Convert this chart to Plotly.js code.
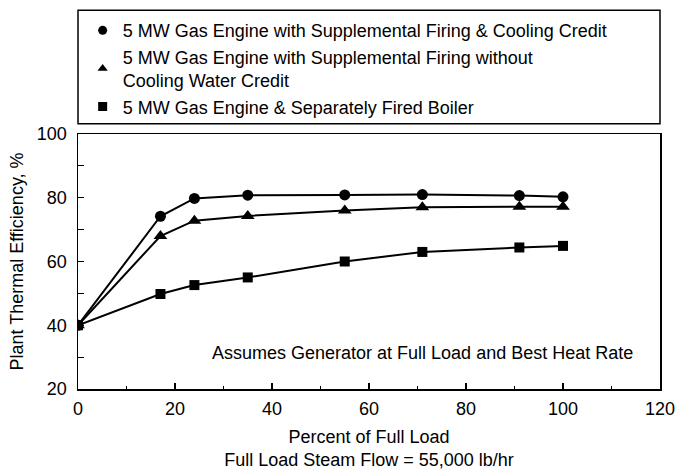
<!DOCTYPE html>
<html>
<head>
<meta charset="utf-8">
<script src="https://cdn.plot.ly/plotly-3.0.1.min.js"></script>
<style>html,body{margin:0;padding:0;background:#fff;}#chart{width:683px;height:471px;}</style>
</head>
<body>
<div id="chart"></div>
<script>
// Data
const loadPct = [0, 17, 24, 35, 55, 71, 91, 100];
const withCoolingCredit = [40, 74.2, 79.8, 80.8, 80.9, 81, 80.7, 80.3];
const withoutCoolingCredit = [40, 68, 72.8, 74.3, 76, 77, 77.2, 77.2];
const separateBoiler = [40, 49.8, 52.6, 55, 60, 63, 64.4, 64.9];

const seriesNames = [
  "5 MW Gas Engine with Supplemental Firing & Cooling Credit",
  "5 MW Gas Engine with Supplemental Firing without<br>Cooling Water Credit",
  "5 MW Gas Engine & Separately Fired Boiler"
];
const seriesSymbols = ["circle", "triangle-up", "square"];
const seriesValues = [withCoolingCredit, withoutCoolingCredit, separateBoiler];
const markerSizes = [11, 12, 10];

const FONT = "Liberation Sans, Arial, Helvetica, sans-serif";
const FS = 18;
const traces = [];
seriesValues.forEach((vals, i) => {
  traces.push({
    x: loadPct, y: vals, type: "scatter", mode: "lines+markers",
    line: {color: "#000", width: 2},
    marker: {symbol: seriesSymbols[i], size: markerSizes[i], color: "#000"},
    showlegend: false, hoverinfo: "x+y"
  });
});
// legend-only entries (markers without line, as in the reference legend)
seriesValues.forEach((vals, i) => {
  traces.push({
    x: [null], y: [null], type: "scatter", mode: "markers",
    name: seriesNames[i],
    marker: {symbol: seriesSymbols[i], size: 9, color: "#000"},
    showlegend: true
  });
});

const layout = {
  width: 683, height: 471,
  margin: {l: 78, r: 23, t: 129, b: 82},
  paper_bgcolor: "#fff", plot_bgcolor: "#fff",
  font: {family: FONT, size: FS, color: "#000"},
  showlegend: true,
  legend: {
    x: 0.008, y: 1.478, xanchor: "left", yanchor: "top",
    bgcolor: "rgba(0,0,0,0)", borderwidth: 0,
    font: {family: FONT, size: FS, color: "#000"},
    traceorder: "normal"
  },
  shapes: [{
    type: "rect", xref: "paper", yref: "paper",
    x0: 0, x1: 1, y0: 1.04, y1: 1.485,
    line: {color: "#000", width: 1.5}
  }],
  xaxis: {
    range: [0, 120], dtick: 20, tick0: 0,
    ticks: "inside", ticklen: 6, tickwidth: 1.2, tickcolor: "#000",
    minor: {dtick: 10, ticks: "inside", ticklen: 3, tickcolor: "#000"},
    showline: true, linecolor: "#000", linewidth: 1.5, mirror: true,
    showgrid: false, zeroline: false, ticklabelstandoff: 3,
    tickfont: {family: FONT, size: FS, color: "#000"},
    title: {text: "Percent of Full Load<br>Full Load Steam Flow = 55,000 lb/hr",
            font: {family: FONT, size: FS, color: "#000"}, standoff: 12}
  },
  yaxis: {
    range: [20, 100], dtick: 20, tick0: 20,
    ticks: "inside", ticklen: 6, tickwidth: 1.2, tickcolor: "#000",
    minor: {dtick: 10, ticks: "inside", ticklen: 6, tickcolor: "#000"},
    showline: true, linecolor: "#000", linewidth: 1.5, mirror: true,
    showgrid: false, zeroline: false, ticklabelstandoff: 6,
    tickfont: {family: FONT, size: FS, color: "#000"},
    title: {text: "Plant Thermal Efficiency, %",
            font: {family: FONT, size: FS, color: "#000"}, standoff: 8}
  },
  annotations: [{
    text: "Assumes Generator at Full Load and Best Heat Rate",
    xref: "paper", yref: "paper", x: 0.957, y: 0.142,
    xanchor: "right", yanchor: "middle", showarrow: false,
    font: {family: FONT, size: FS, color: "#000"}
  }]
};

Plotly.newPlot("chart", traces, layout, {displayModeBar: false, staticPlot: true});
</script>
</body>
</html>
